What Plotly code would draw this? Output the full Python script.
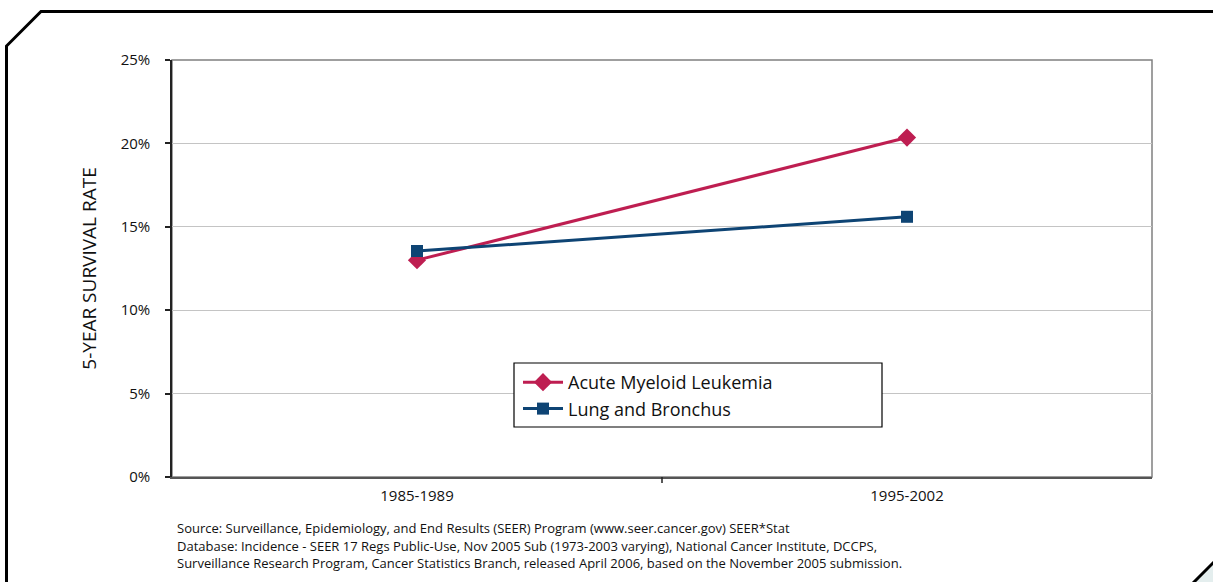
import plotly.graph_objects as go

categories = ["1985-1989", "1995-2002"]
aml = [13.0, 20.35]
lung = [13.55, 15.6]
series_names = ["Acute Myeloid Leukemia", "Lung and Bronchus"]
y_ticks = [0, 5, 10, 15, 20, 25]
y_tick_labels = ["0%", "5%", "10%", "15%", "20%", "25%"]
source_lines = [
    "Source: Surveillance, Epidemiology, and End Results (SEER) Program (www.seer.cancer.gov) SEER*Stat",
    "Database: Incidence - SEER 17 Regs Public-Use, Nov 2005 Sub (1973-2003 varying), National Cancer Institute, DCCPS,",
    "Surveillance Research Program, Cancer Statistics Branch, released April 2006, based on the November 2005 submission.",
]

FONT = "Open Sans"
W, H = 1213, 582
L, R, T, B = 172, 1152, 60, 477

def px(x):
    return (x - L) / (R - L)

def py(y):
    return (B - y) / (B - T)

fig = go.Figure()
fig.add_trace(go.Scatter(
    x=categories, y=aml, name=series_names[0], mode="lines+markers",
    line=dict(color="#BE1E51", width=3),
    marker=dict(symbol="diamond", size=14, color="#BE1E51"),
))
fig.add_trace(go.Scatter(
    x=categories, y=lung, name=series_names[1], mode="lines+markers",
    line=dict(color="#0E4474", width=3),
    marker=dict(symbol="square", size=12, color="#0E4474"),
))

shapes = []
# outer frame with chamfered corner
shapes.append(dict(type="path", xref="paper", yref="paper",
                   path=f"M {px(6.5)} {py(620)} L {px(6.5)} {py(46)} L {px(41)} {py(11.5)} L {px(1240)} {py(11.5)}",
                   line=dict(color="black", width=3), layer="above"))
# bottom-right chamfer with light fill
shapes.append(dict(type="path", xref="paper", yref="paper",
                   path=f"M {px(1193)} {py(583)} L {px(1214)} {py(562)} L {px(1214)} {py(583)} Z",
                   line=dict(width=0), fillcolor="#E4EEEE", layer="above"))
shapes.append(dict(type="line", xref="paper", yref="paper",
                   x0=px(1193), y0=py(583), x1=px(1214), y1=py(562),
                   line=dict(color="black", width=3), layer="above"))
# plot border (top/right gray)
shapes.append(dict(type="rect", xref="paper", yref="paper", x0=0, y0=0, x1=1, y1=1,
                   line=dict(color="#808080", width=1.5), layer="below"))
# category boundary tick on x axis
shapes.append(dict(type="line", xref="paper", yref="paper",
                   x0=0.5, x1=0.5, y0=0, y1=py(483),
                   line=dict(color="#222222", width=1.5), layer="above"))
# legend box
shapes.append(dict(type="rect", xref="paper", yref="paper",
                   x0=px(514), y0=py(363), x1=px(882), y1=py(427),
                   line=dict(color="black", width=1.2), fillcolor="white", layer="above"))

annotations = []
for i, line in enumerate(source_lines):
    annotations.append(dict(text=line, xref="paper", yref="paper", x=px(175), y=py(528 + 17.5 * i),
                            xanchor="left", yanchor="middle", showarrow=False,
                            font=dict(family=FONT, size=13, color="#111111")))

fig.update_layout(
    width=W, height=H,
    margin=dict(l=L, r=W - R, t=T, b=H - B),
    paper_bgcolor="white", plot_bgcolor="white",
    font=dict(family=FONT, color="#111111"),
    showlegend=True,
    legend=dict(x=px(518), y=py(364), xanchor="left", yanchor="top",
                bgcolor="rgba(0,0,0,0)", borderwidth=0,
                font=dict(family=FONT, size=18, color="#111111"),
                tracegroupgap=0, itemwidth=40),
    shapes=shapes,
    annotations=annotations,
    xaxis=dict(type="category", range=[-0.5, 1.5], showgrid=False, showline=True,
               linecolor="#555555", linewidth=1.5, ticks="",
               ticklabelstandoff=4,
               tickfont=dict(family=FONT, size=15, color="#111111"), fixedrange=True),
    yaxis=dict(range=[0, 25], tickvals=y_ticks, ticktext=y_tick_labels,
               showgrid=True, gridcolor="#C4C4C4", gridwidth=1.2,
               showline=True, linecolor="#222222", linewidth=1.5,
               ticks="outside", ticklen=5, tickcolor="#222222", tickwidth=1.5,
               ticklabelstandoff=12,
               tickfont=dict(family=FONT, size=15, color="#111111"),
               title=dict(text="5-YEAR SURVIVAL RATE", standoff=19,
                          font=dict(family=FONT, size=19, color="#111111")),
               zeroline=False, fixedrange=True),
)

fig.write_html("out.html", config={"displayModeBar": False},
               post_script="document.body.style.margin='0';document.body.style.overflow='hidden';")
